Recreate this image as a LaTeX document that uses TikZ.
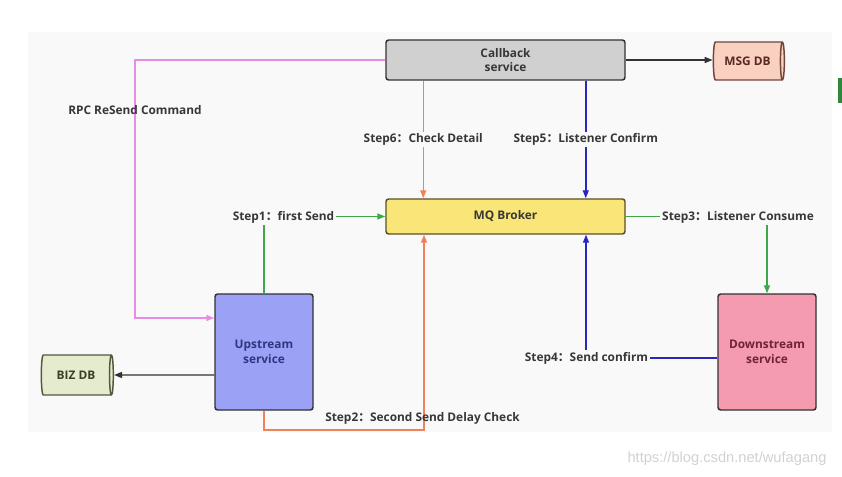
\documentclass[tikz,border=0pt]{standalone}
\usepackage{fontspec}
\setmainfont{Open Sans}
\newfontfamily\cjk{Noto Sans CJK SC}
\newfontfamily\wmfont{Liberation Sans}
\usetikzlibrary{arrows.meta,shapes.geometric,calc}
\definecolor{bgc}{RGB}{249,249,249}
\definecolor{txt}{RGB}{55,55,55}
\definecolor{pinkl}{RGB}{232,140,232}
\definecolor{greenl}{RGB}{60,168,72}
\definecolor{orangel}{RGB}{240,130,90}
\definecolor{bluel}{RGB}{40,40,190}
\definecolor{darkl}{RGB}{50,50,50}
\definecolor{cbfill}{RGB}{208,208,208}
\definecolor{mqfill}{RGB}{250,230,120}
\definecolor{upfill}{RGB}{155,162,245}
\definecolor{dnfill}{RGB}{245,155,175}
\definecolor{msgfill}{RGB}{250,208,192}
\definecolor{bizfill}{RGB}{228,236,205}
\newcommand{\fcolon}{{\cjk ：}}
\tikzset{
  x=0.75pt, y=-0.75pt,
  every node/.style={font=\bfseries\fontsize{8.9}{10.8}\selectfont, text=txt},
  box/.style={draw=darkl, line width=1.1pt, rounded corners=2pt, align=center, inner sep=0pt},
  db/.style={cylinder, shape aspect=0.45, draw=darkl, line width=1.1pt, cylinder uses custom fill, align=center, inner sep=0pt},
  conn/.style={line width=1.1pt, -{Triangle[length=6pt,width=4.5pt]}},
  lbl/.style={fill=bgc, inner sep=1.5pt},
}
\begin{document}
\begin{tikzpicture}
\useasboundingbox (0,0) rectangle (842,477);
\fill[white] (0,0) rectangle (842,477);
\fill[bgc] (28,32) rectangle (832,432);
\fill[greenl!80!black] (838,78) rectangle (842,103);

% nodes
\node[box, fill=cbfill, minimum width=179.25pt, minimum height=30pt] (cb) at (505.5,60) {Callback\\service};
\node[box, fill=mqfill, draw={rgb,255:red,90;green,80;blue,40}, minimum width=179.25pt, minimum height=26.25pt] (mq) at (505.5,216.5) {MQ Broker};
\node[box, fill=upfill, minimum width=73.5pt, minimum height=87pt, text={rgb,255:red,45;green,55;blue,130}] (up) at (264,352) {Upstream\\service};
\node[box, fill=dnfill, minimum width=73.5pt, minimum height=87pt, text={rgb,255:red,110;green,35;blue,55}] (dn) at (767,352) {Downstream\\service};
\node[db, cylinder body fill=msgfill, cylinder end fill=msgfill, draw={rgb,255:red,110;green,70;blue,60}, minimum width=28.5pt, minimum height=53.25pt, text={rgb,255:red,90;green,40;blue,35}] (msg) at (747.5,61) {MSG DB};
\node[db, cylinder body fill=bizfill, cylinder end fill=bizfill, draw={rgb,255:red,80;green,90;blue,60}, minimum width=30pt, minimum height=54pt, text={rgb,255:red,55;green,65;blue,35}] (biz) at (76,375) {BIZ DB};

% coordinates
\coordinate (pk) at (135,318);
\coordinate (s2) at (424,430);
\coordinate (s4) at (586,358);

% RPC resend
\draw[conn, draw=pinkl, -{Triangle[length=6pt,width=4.5pt,fill=pinkl]}] (cb.west) -| (pk) -- (pk -| up.west);
\node at (135,110) {RPC ReSend Command};

% callback -> msg db
\draw[conn, draw=darkl] (cb.east) -- (cb.east -| msg.west);

% step6
\draw[conn, draw=orangel] ($(cb.south west)+(38,0)$) -- node[lbl] {Step6\fcolon Check Detail} ($(mq.north west)+(38,0)$);
% step5
\draw[conn, draw=bluel] ($(cb.south west)+(200.5,0)$) -- node[lbl] {Step5\fcolon Listener Confirm} ($(mq.north west)+(200.5,0)$);

% step1
\draw[conn, draw=greenl] (up.north) |- (mq.west);
\node[lbl] at (283.5,217) {Step1\fcolon first Send};

% step2
\draw[conn, draw=orangel] (up.south) |- (s2) -- (s2 |- mq.south);
\node at (422.5,418) {Step2\fcolon Second Send Delay Check};

% step3
\draw[conn, draw=greenl] (mq.east) -| (dn.north);
\node[lbl] at (738,217) {Step3\fcolon Listener Consume};

% step4
\draw[conn, draw=bluel] (s4 -| dn.west) -| (s4 |- mq.south);
\node[lbl] at (586.5,358) {Step4\fcolon Send confirm};

% upstream -> biz db
\draw[conn, draw=darkl] (up.west |- biz) -- (biz.east);

% watermark
\node[font=\wmfont\fontsize{11}{13}\selectfont, text=gray!35] at (727,459) {https://blog.csdn.net/wufagang};
\end{tikzpicture}
\end{document}
